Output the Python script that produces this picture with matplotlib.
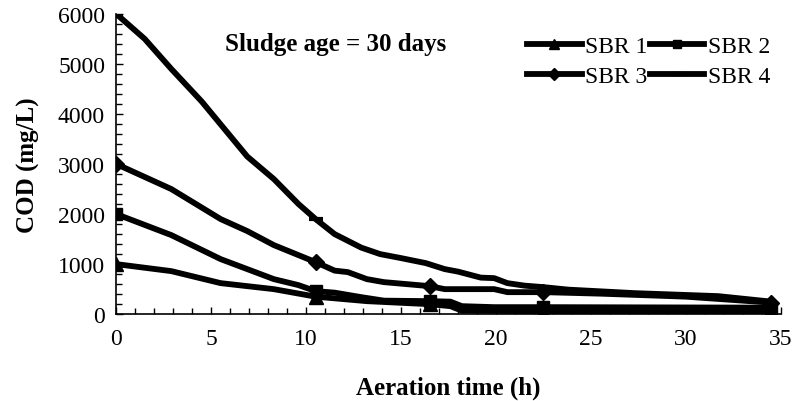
import matplotlib
matplotlib.use("Agg")
import matplotlib.pyplot as plt
from matplotlib.ticker import MultipleLocator

# Aeration time (h) and COD (mg/L) for each reactor
t_sbr1 = [0, 2.9, 5.5, 8.3, 10.5, 13.2, 16.5, 17.6, 18.2, 22.5, 34.5]
cod_sbr1 = [1000, 860, 620, 500, 350, 260, 200, 160, 70, 60, 50]

t_sbr2 = [0, 2.9, 5.5, 6.9, 8.3, 9.6, 10.5, 11.5, 12.9, 14.1, 16.5, 17.6, 18.2, 19.9, 22.5, 34.5]
cod_sbr2 = [2000, 1580, 1100, 900, 700, 580, 460, 430, 340, 270, 260, 250, 160, 140, 140, 130]

t_sbr3 = [0, 2.9, 5.5, 6.9, 8.3, 10.5, 11.5, 12.2, 13.2, 14.1, 15.3, 16.5, 17.3, 19.9, 20.6, 22.5, 25.5, 30, 34.5]
cod_sbr3 = [3000, 2500, 1900, 1660, 1380, 1040, 870, 840, 700, 640, 600, 560, 500, 500, 440, 440, 410, 350, 230]

t_sbr4 = [0, 1.5, 2.9, 4.5, 6.9, 8.3, 9.6, 10.5, 11.5, 12.9, 13.9, 15, 16.3, 17.3, 18, 19.2, 19.9, 20.6, 21.5, 22.5, 23.8, 27.3, 31.7, 34.5]
cod_sbr4 = [6000, 5500, 4900, 4250, 3150, 2700, 2200, 1900, 1600, 1330, 1200, 1120, 1020, 900, 850, 730, 720, 620, 570, 540, 490, 420, 360, 250]

# Sampling times carry the markers
sample_times = [0, 10.5, 16.5, 22.5, 34.5]

plt.rcParams['font.family'] = ['Liberation Serif', 'DejaVu Serif']

fig = plt.figure(figsize=(7.96, 4.02), dpi=100)
ax = fig.add_axes([0.146, 0.216, 0.835, 0.747])

def marks(ts):
    return [ts.index(s) for s in sample_times if s in ts]

lw = 4.2
l1, = ax.plot(t_sbr1, cod_sbr1, color='black', lw=lw, marker='^', ms=10,
              markevery=marks(t_sbr1), label='SBR 1')
l2, = ax.plot(t_sbr2, cod_sbr2, color='black', lw=lw, marker='s', ms=9,
              markevery=marks(t_sbr2), label='SBR 2')
l3, = ax.plot(t_sbr3, cod_sbr3, color='black', lw=lw, marker='D', ms=8.5,
              markevery=marks(t_sbr3), label='SBR 3')
l4, = ax.plot(t_sbr4, cod_sbr4, color='black', lw=lw, marker='_', ms=10,
              mew=3, markevery=[0, 7], label='SBR 4')

ax.set_xlim(0, 35)
ax.set_ylim(0, 6000)
ax.xaxis.set_major_locator(MultipleLocator(5))
ax.xaxis.set_minor_locator(MultipleLocator(1))
ax.yaxis.set_major_locator(MultipleLocator(1000))
ax.yaxis.set_minor_locator(MultipleLocator(200))
ax.tick_params(which='both', direction='in', width=1, colors='black')
ax.tick_params(which='major', length=5, labelsize=17, pad=8)
ax.tick_params(which='minor', length=4)
ax.tick_params(axis='x', which='major', pad=10)

for side in ('top', 'right'):
    ax.spines[side].set_visible(False)
for side in ('left', 'bottom'):
    ax.spines[side].set_linewidth(1.2)

ax.set_xlabel('Aeration time (h)', fontsize=18, fontweight='bold', labelpad=19)
ax.set_ylabel('COD (mg/L)', fontsize=18, fontweight='bold', labelpad=13)

ax.text(0.164, 0.903, 'Sludge age = 30 days', transform=ax.transAxes,
        fontsize=18, fontweight='bold', ha='left', va='center')

leg = ax.legend([l1, l3, l2, l4], ['SBR 1', 'SBR 3', 'SBR 2', 'SBR 4'],
                ncol=2, loc='upper right', bbox_to_anchor=(0.998, 0.958),
                frameon=False, fontsize=17, handlelength=2.3,
                handletextpad=0.15, columnspacing=0.1, labelspacing=0.35,
                borderaxespad=0, markerscale=0.7)

fig.savefig('out.png', dpi=100)
